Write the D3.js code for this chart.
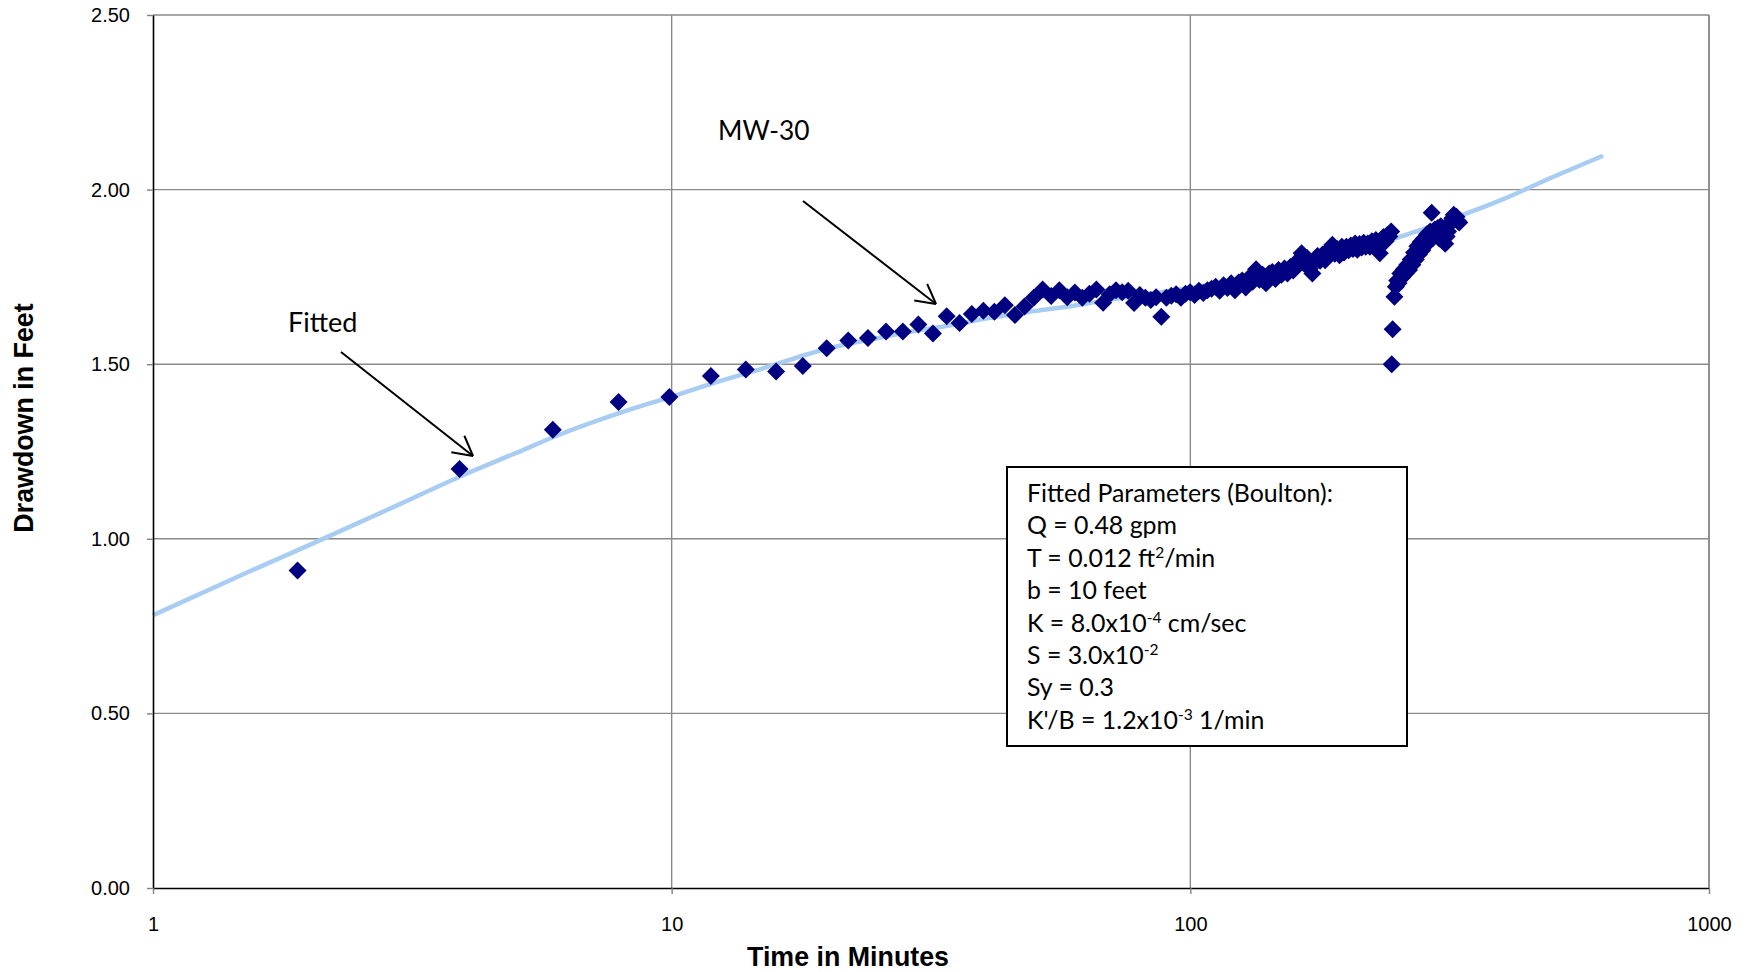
<!DOCTYPE html>
<html>
<head>
<meta charset="utf-8">
<script src="https://cdn.jsdelivr.net/npm/d3@7"></script>
<style>
  html, body { margin: 0; padding: 0; background: #fff; }
  svg { display: block; }
  .tick text { font-family: "Liberation Sans", Arial, sans-serif; font-size: 20px; fill: #000; }
  .note { font-family: Lato, "Noto Sans", sans-serif; fill: #000; white-space: pre; }
</style>
</head>
<body>
<svg id="chart" width="1749" height="972"></svg>
<script>
// Observed drawdown at MW-30 (minutes, feet)
const obsTime = [
  1.9, 3.9, 5.9, 7.9, 9.9, 11.9, 13.9, 15.9, 17.9, 19.9,
  21.9, 23.9, 25.9, 27.9, 29.9, 31.9, 33.9, 35.9, 37.9,
  39.9, 41.9, 43.9, 45.9, 47.9, 49.9, 51.9, 53.9, 55.9, 57.9,
  59.9, 61.9, 63.9, 65.9, 67.9, 69.9, 71.9, 73.9, 75.9, 77.9,
  79.9, 81.9, 83.9, 85.9, 87.9, 89.9, 91.9, 93.9, 95.9, 97.9,
  99.9, 101.9, 103.9, 105.9, 107.9, 109.9, 111.9, 113.9, 115.9, 117.9,
  119.9, 121.9, 123.9, 125.9, 127.9, 129.9, 131.9, 133.9, 135.9, 137.9,
  139.9, 141.9, 143.9, 145.9, 147.9, 149.9, 151.9, 153.9, 155.9, 157.9,
  159.9, 161.9, 163.9, 165.9, 167.9, 169.9, 171.9, 173.9, 175.9, 177.9,
  179.9, 181.9, 183.9, 185.9, 187.9, 189.9, 191.9, 193.9, 195.9, 197.9,
  199.9, 201.9, 203.9, 205.9, 207.9, 209.9, 211.9, 213.9, 215.9, 217.9,
  219.9, 221.9, 223.9, 225.9, 227.9, 229.9, 231.9, 233.9, 235.9, 237.9,
  239.9, 241.9, 243.9,
  244.5, 245.5, 247.5, 249, 250.5, 252, 254, 256, 258, 260,
  262, 264, 266, 268, 270, 272, 274, 276, 278, 280,
  282, 284, 286, 288, 290, 292, 294, 296, 298, 300,
  302, 304, 306, 308, 310, 312, 314, 316, 318, 320,
  322, 324, 326, 328, 330
];
const obsDrawdown = [
  0.909, 1.200, 1.312, 1.392, 1.406, 1.466, 1.485, 1.479, 1.495, 1.546,
  1.568, 1.575, 1.594, 1.594, 1.614, 1.588, 1.637, 1.618, 1.644,
  1.653, 1.650, 1.669, 1.641, 1.665, 1.690, 1.714, 1.695, 1.712, 1.692,
  1.705, 1.690, 1.702, 1.714, 1.676, 1.700, 1.712, 1.706, 1.710, 1.675,
  1.698, 1.690, 1.684, 1.692, 1.636, 1.690, 1.696, 1.700, 1.690, 1.702,
  1.706, 1.698, 1.710, 1.704, 1.712, 1.716, 1.722, 1.710, 1.726, 1.718,
  1.732, 1.712, 1.734, 1.740, 1.720, 1.748, 1.736, 1.772, 1.742, 1.756,
  1.732, 1.760, 1.764, 1.744, 1.770, 1.756, 1.774, 1.760, 1.778, 1.768,
  1.786, 1.800, 1.818, 1.788, 1.804, 1.774, 1.760, 1.800, 1.810, 1.796,
  1.814, 1.798, 1.820, 1.832, 1.842, 1.816, 1.830, 1.812, 1.836, 1.820,
  1.836, 1.826, 1.840, 1.830, 1.846, 1.828, 1.844, 1.834, 1.848, 1.836,
  1.846, 1.836, 1.852, 1.838, 1.856, 1.842, 1.818, 1.858, 1.864, 1.852,
  1.870, 1.866, 1.880,
  1.500, 1.600, 1.693, 1.722, 1.740, 1.732, 1.760, 1.748, 1.772, 1.760,
  1.785, 1.770, 1.800, 1.785, 1.820, 1.800, 1.838, 1.815, 1.850, 1.826,
  1.860, 1.840, 1.872, 1.852, 1.880, 1.934, 1.862, 1.886, 1.870, 1.890,
  1.860, 1.895, 1.872, 1.884, 1.845, 1.866, 1.880, 1.900, 1.908, 1.918,
  1.928, 1.915, 1.922, 1.910, 1.906
];

// Boulton type-curve fit
const fitTime = [1, 1.5, 2, 3, 4, 5, 6, 8, 10, 12, 15, 20, 25, 30, 35, 40, 50, 60, 70, 80,
                 100, 125, 150, 200, 250, 300, 400, 500, 625];
const fitDrawdown = [0.781, 0.900, 0.982, 1.100, 1.185, 1.245, 1.295, 1.362, 1.407, 1.445,
                     1.488, 1.545, 1.575, 1.597, 1.613, 1.630, 1.652, 1.668, 1.685, 1.698,
                     1.718, 1.745, 1.772, 1.822, 1.862, 1.902, 1.972, 2.036, 2.097];

const xTicks = [1, 10, 100, 1000];
const yTicks = [0, 0.5, 1.0, 1.5, 2.0, 2.5];

// Parameter box lines: [text, superscript?] runs
const paramLines = [
  [["Fitted Parameters (Boulton):", false]],
  [["Q = 0.48 gpm", false]],
  [["T = 0.012 ft", false], ["2", true], ["/min", false]],
  [["b = 10 feet", false]],
  [["K = 8.0x10", false], ["-4", true], [" cm/sec", false]],
  [["S = 3.0x10", false], ["-2", true]],
  [["Sy = 0.3", false]],
  [["K'/B = 1.2x10", false], ["-3", true], [" 1/min", false]]
];

const svg = d3.select("#chart");
const plotLeft = 153, plotRight = 1709, plotTop = 15, plotBottom = 888;

const x = d3.scaleLog().domain([1, 1000]).range([plotLeft, plotRight]);
const y = d3.scaleLinear().domain([0, 2.5]).range([plotBottom, plotTop]);

// Grid
const grid = svg.append("g");
grid.selectAll("line.h").data(yTicks.filter(d => d > 0)).join("line")
  .attr("x1", plotLeft).attr("x2", plotRight)
  .attr("y1", d => y(d)).attr("y2", d => y(d))
  .attr("stroke", "#8a8a8a").attr("stroke-width", 1.4);
grid.selectAll("line.v").data(xTicks.filter(d => d > 1)).join("line")
  .attr("x1", d => x(d)).attr("x2", d => x(d))
  .attr("y1", plotTop).attr("y2", plotBottom)
  .attr("stroke", "#8a8a8a").attr("stroke-width", 1.4);

// Fitted curve
const line = d3.line()
  .x((d, i) => x(fitTime[i]))
  .y(d => y(d))
  .curve(d3.curveMonotoneX);
svg.append("path")
  .datum(fitDrawdown)
  .attr("d", line)
  .attr("fill", "none")
  .attr("stroke", "#a9cdf2")
  .attr("stroke-width", 4.5)
  .attr("stroke-linecap", "butt");

// Observed points as diamonds
const diamond = "M0,-9L9,0L0,9L-9,0Z";
svg.append("g").selectAll("path").data(obsDrawdown).join("path")
  .attr("d", diamond)
  .attr("transform", (d, i) => `translate(${x(obsTime[i])},${y(d)})`)
  .attr("fill", "#000080");

// Axes
const yAxis = d3.axisLeft(y).tickValues(yTicks).tickFormat(d3.format(".2f"))
  .tickSize(6).tickSizeOuter(0).tickPadding(17);
const gy = svg.append("g").attr("transform", `translate(${plotLeft},0)`).call(yAxis);

const xAxis = d3.axisBottom(x).tickValues(xTicks).tickFormat(d3.format("d"))
  .tickSize(6).tickSizeOuter(0).tickPadding(23);
const gx = svg.append("g").attr("transform", `translate(0,${plotBottom})`).call(xAxis);

[gx, gy].forEach(g => {
  g.select(".domain").attr("stroke", "#000").attr("stroke-width", 1.6);
  g.selectAll(".tick line").attr("stroke", "#808080").attr("stroke-width", 1.4);
});

// Right border
svg.append("line").attr("x1", plotRight).attr("x2", plotRight).attr("y1", plotTop).attr("y2", plotBottom)
  .attr("stroke", "#8a8a8a").attr("stroke-width", 1.6);

// Axis titles
svg.append("text")
  .attr("x", 848).attr("y", 966)
  .attr("text-anchor", "middle")
  .style("font-family", "'Liberation Sans', Arial, sans-serif")
  .style("font-weight", "bold").style("font-size", "26.8px")
  .text("Time in Minutes");
svg.append("text")
  .attr("transform", "translate(33,418) rotate(-90)")
  .attr("text-anchor", "middle")
  .style("font-family", "'Liberation Sans', Arial, sans-serif")
  .style("font-weight", "bold").style("font-size", "26.8px")
  .text("Drawdown in Feet");

// Annotations with arrows
function arrow(x1, y1, x2, y2, len) {
  const a = Math.atan2(y2 - y1, x2 - x1);
  const g = svg.append("g").attr("stroke", "#000").attr("stroke-width", 2).attr("fill", "none");
  g.append("line").attr("x1", x1).attr("y1", y1).attr("x2", x2).attr("y2", y2);
  [0.5, -0.5].forEach(da => {
    g.append("line")
      .attr("x1", x2).attr("y1", y2)
      .attr("x2", x2 - len * Math.cos(a + da))
      .attr("y2", y2 - len * Math.sin(a + da));
  });
}
svg.append("text").attr("class", "note").attr("x", 288).attr("y", 332)
  .style("font-size", "27px").text("Fitted");
arrow(341, 352, 473, 456, 22);

svg.append("text").attr("class", "note").attr("x", 718).attr("y", 140)
  .style("font-size", "26.3px").text("MW-30");
arrow(803, 201, 936, 304, 22);

// Parameter box
const box = svg.append("g");
box.append("rect")
  .attr("x", 1007).attr("y", 467).attr("width", 400).attr("height", 279)
  .attr("fill", "#fff").attr("stroke", "#000").attr("stroke-width", 2);
paramLines.forEach((runs, i) => {
  const t = box.append("text").attr("class", "note")
    .attr("x", 1027).attr("y", 502 + i * 32.4)
    .style("font-size", "24.9px");
  runs.forEach(([s, sup], j) => {
    const ts = t.append("tspan").text(s);
    if (sup) ts.attr("dy", -9).style("font-size", "15.5px");
    else if (j > 0) ts.attr("dy", 9);
  });
});
</script>
</body>
</html>
